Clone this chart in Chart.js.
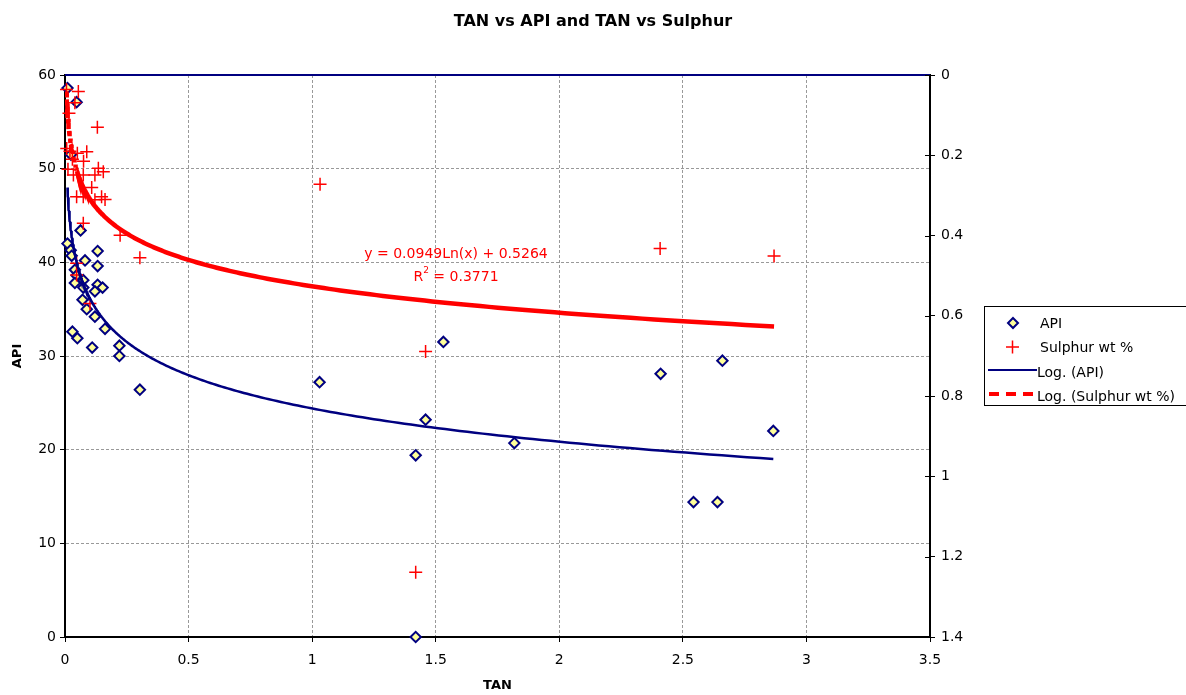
<!DOCTYPE html>
<html>
<head>
<meta charset="utf-8">
<script src="https://cdn.jsdelivr.net/npm/chart.js@4.4.1/dist/chart.umd.min.js"></script>
<style>
  html, body { margin: 0; padding: 0; background: #fff; }
  #wrap { width: 1186px; height: 695px; }
</style>
</head>
<body>
<div id="wrap"><canvas id="chart" width="1186" height="695"></canvas></div>
<script>
// API series (left axis)
const apiTan = [0.01, 0.047, 0.024, 0.063, 0.01, 0.023, 0.132, 0.027, 0.081, 0.132, 0.040, 0.047, 0.074, 0.040,
   0.132, 0.152, 0.074, 0.121, 0.071, 0.088, 0.121, 0.162, 0.030, 0.050, 0.110, 0.220, 0.220, 0.303, 1.030,
   1.531, 1.459, 1.419, 1.818, 1.419, 2.410, 2.660, 2.866, 2.543, 2.640]
const apiValues = [58.6, 57.1, 51.5, 43.4, 42.0, 41.3, 41.2, 40.7, 40.2, 39.6, 39.2, 38.6, 38.1, 37.8,
   37.6, 37.3, 37.3, 36.9, 36.0, 35.0, 34.2, 32.9, 32.6, 31.9, 30.9, 31.1, 30.0, 26.4, 27.2,
   31.5, 23.2, 19.4, 20.7, 0, 28.1, 29.5, 22.0, 14.4, 14.4]

// Sulphur series (right axis, reversed)
const sulphurTan = [0.006, 0.054, 0.040, 0.016, 0.131, 0.007, 0.020, 0.088, 0.050, 0.030, 0.075, 0.012,
   0.034, 0.074, 0.121, 0.135, 0.155, 0.108, 0.047, 0.074, 0.148, 0.121, 0.162, 0.074, 0.223, 0.303,
   0.047, 0.047, 0.101, 1.032, 1.459, 1.419, 2.408, 2.869]
const sulphurValues = [0.036, 0.041, 0.069, 0.095, 0.130, 0.183, 0.190, 0.191, 0.195, 0.210, 0.215, 0.235,
   0.249, 0.249, 0.249, 0.232, 0.241, 0.280, 0.303, 0.303, 0.303, 0.311, 0.310, 0.369, 0.399, 0.455,
   0.469, 0.498, 0.569, 0.272, 0.689, 1.239, 0.432, 0.451]

// log trendlines: y = a * ln(x) + b
const apiFit = [-5.12, 24.4]
const sulphurFit = [0.0949, 0.5264]

// axis ranges [min, max, step]
const tanAxis = [0, 3.5, 0.5]
const apiAxis = [0, 60, 10]
const sulphurAxis = [0, 1.4, 0.2]

const FONT = 'DejaVu Sans'
const NAVY = '#000080'
const RED = '#ff0000'

const toPoints = ( xs, ys ) => xs.map( ( x, i ) => ( { x, y: ys[ i ] } ) )
const fmt = ( v ) => String( Math.round( v * 10 ) / 10 )

function trendPoints( xs, fit ) {
   const lo = Math.min( ...xs )
   const hi = Math.max( ...xs )
   const pts = []
   const n = 300
   for ( let i = 0; i <= n; i++ ) {
      const x = Math.exp( Math.log( lo ) + ( Math.log( hi ) - Math.log( lo ) ) * i / n )
      pts.push( { x, y: fit[ 0 ] * Math.log( x ) + fit[ 1 ] } )
   }
   return pts
}

const extras = {
   id: 'excel_extras',
   afterDraw( chart ) {
      const { ctx, chartArea: ca } = chart
      const y2 = chart.scales.y2
      ctx.save()

      // top frame line
      ctx.strokeStyle = NAVY
      ctx.lineWidth = 2
      ctx.beginPath()
      ctx.moveTo( ca.left, ca.top )
      ctx.lineTo( ca.right, ca.top )
      ctx.stroke()

      // inner half of the right-axis tick marks
      ctx.strokeStyle = '#000'
      ctx.lineWidth = 1
      y2.ticks.forEach( ( t ) => {
         const py = Math.round( y2.getPixelForValue( t.value ) ) + 0.5
         ctx.beginPath()
         ctx.moveTo( ca.right - 5, py )
         ctx.lineTo( ca.right, py )
         ctx.stroke()
      } )

      // title
      ctx.fillStyle = '#000'
      ctx.textAlign = 'center'
      ctx.textBaseline = 'middle'
      ctx.font = `bold 16px "${FONT}"`
      ctx.fillText( 'TAN vs API and TAN vs Sulphur', 593, 22 )

      // trendline equation
      ctx.fillStyle = RED
      ctx.font = `14px "${FONT}"`
      ctx.fillText( 'y = 0.0949Ln(x) + 0.5264', 456, 254 )
      const a = 'R'
      const b = ' = 0.3771'
      const wa = ctx.measureText( a ).width
      const wb = ctx.measureText( b ).width
      ctx.font = `9px "${FONT}"`
      const ws = ctx.measureText( '2' ).width
      const x0 = 456 - ( wa + ws + wb ) / 2
      ctx.textAlign = 'left'
      ctx.font = `14px "${FONT}"`
      ctx.fillText( a, x0, 277 )
      ctx.font = `9px "${FONT}"`
      ctx.fillText( '2', x0 + wa, 271 )
      ctx.font = `14px "${FONT}"`
      ctx.fillText( b, x0 + wa + ws, 277 )

      // legend box
      ctx.strokeStyle = '#000'
      ctx.lineWidth = 1
      ctx.strokeRect( 984.5, 306.5, 215, 99 )

      ctx.fillStyle = '#000'
      ctx.font = `14px "${FONT}"`
      ctx.fillText( 'API', 1040, 324 )
      ctx.fillText( 'Sulphur wt %', 1040, 348 )
      ctx.fillText( 'Log. (API)', 1037, 373 )
      ctx.fillText( 'Log. (Sulphur wt %)', 1037, 397 )

      // diamond
      ctx.beginPath()
      ctx.moveTo( 1013, 318 )
      ctx.lineTo( 1018, 323 )
      ctx.lineTo( 1013, 328 )
      ctx.lineTo( 1008, 323 )
      ctx.closePath()
      ctx.fillStyle = '#ffff99'
      ctx.fill()
      ctx.strokeStyle = NAVY
      ctx.lineWidth = 2
      ctx.stroke()

      // cross
      ctx.strokeStyle = RED
      ctx.lineWidth = 1.5
      ctx.beginPath()
      ctx.moveTo( 1006, 347 )
      ctx.lineTo( 1019, 347 )
      ctx.moveTo( 1012.5, 340.5 )
      ctx.lineTo( 1012.5, 353.5 )
      ctx.stroke()

      // solid navy line
      ctx.strokeStyle = NAVY
      ctx.lineWidth = 2
      ctx.beginPath()
      ctx.moveTo( 988, 370 )
      ctx.lineTo( 1037, 370 )
      ctx.stroke()

      // dashed red line
      ctx.strokeStyle = RED
      ctx.lineWidth = 4
      ctx.setLineDash( [ 10, 7 ] )
      ctx.beginPath()
      ctx.moveTo( 989, 394 )
      ctx.lineTo( 1036, 394 )
      ctx.stroke()

      ctx.restore()
   },
}

const gridCommon = {
   color: '#999999',
   lineWidth: 1,
   tickColor: '#000',
   tickLength: 5,
   tickWidth: 1,
}

const config = {
   type: 'scatter',
   data: {
      datasets: [
         {
            label: 'Log. (Sulphur wt %)',
            type: 'line',
            data: trendPoints( sulphurTan, sulphurFit ),
            yAxisID: 'y2',
            borderColor: RED,
            borderWidth: 4.5,
            pointRadius: 0,
            fill: false,
            tension: 0,
            order: 1,
            segment: {
               borderDash: ( c ) => ( Math.abs( c.p1.y - c.p0.y ) > 3 * Math.abs( c.p1.x - c.p0.x ) ? [ 4, 4 ] : undefined ),
            },
         },
         {
            label: 'Log. (API)',
            type: 'line',
            data: trendPoints( apiTan, apiFit ),
            yAxisID: 'y',
            borderColor: NAVY,
            borderWidth: 2.5,
            pointRadius: 0,
            fill: false,
            tension: 0,
            order: 2,
         },
         {
            label: 'Sulphur wt %',
            data: toPoints( sulphurTan, sulphurValues ),
            yAxisID: 'y2',
            pointStyle: 'cross',
            pointRadius: 6.5,
            borderColor: RED,
            borderWidth: 1.5,
            clip: false,
            order: 3,
         },
         {
            label: 'API',
            data: toPoints( apiTan, apiValues ),
            yAxisID: 'y',
            pointStyle: 'rectRot',
            pointRadius: 5.2,
            backgroundColor: '#ffff99',
            borderColor: NAVY,
            borderWidth: 2,
            clip: false,
            order: 4,
         },
      ],
   },
   options: {
      responsive: false,
      animation: false,
      devicePixelRatio: 1,
      layout: {
         padding: { top: 75, left: 0, right: 0, bottom: 0 },
      },
      plugins: {
         legend: { display: false },
         title: { display: false },
         tooltip: { enabled: false },
      },
      scales: {
         x: {
            type: 'linear',
            min: tanAxis[ 0 ],
            max: tanAxis[ 1 ],
            ticks: { stepSize: tanAxis[ 2 ], color: '#000', font: { family: FONT, size: 14 }, padding: 10, maxRotation: 0, callback: fmt },
            grid: { ...gridCommon },
            border: { display: true, color: '#000', width: 2, dash: [ 3, 2 ] },
            title: { display: true, text: 'TAN', color: '#000', font: { family: FONT, size: 13, weight: 'bold' }, padding: { top: 0, bottom: 2 } },
            afterFit( scale ) { scale.height = 58 },
         },
         y: {
            type: 'linear',
            position: 'left',
            min: apiAxis[ 0 ],
            max: apiAxis[ 1 ],
            ticks: { stepSize: apiAxis[ 2 ], color: '#000', font: { family: FONT, size: 14 }, padding: 4 },
            grid: { ...gridCommon },
            border: { display: true, color: '#000', width: 2, dash: [ 3, 2 ] },
            title: { display: true, text: 'API', color: '#000', font: { family: FONT, size: 13, weight: 'bold' }, padding: { top: 10, bottom: 0 } },
            afterFit( scale ) { scale.width = 65 },
         },
         y2: {
            type: 'linear',
            position: 'right',
            reverse: true,
            min: sulphurAxis[ 0 ],
            max: sulphurAxis[ 1 ],
            ticks: {
               stepSize: sulphurAxis[ 2 ],
               color: '#000',
               font: { family: FONT, size: 14 },
               padding: 6,
               callback: fmt,
            },
            grid: { ...gridCommon, drawOnChartArea: false },
            border: { display: true, color: '#000', width: 2 },
            afterFit( scale ) { scale.width = 256 },
         },
      },
   },
   plugins: [ extras ],
}

new Chart( document.getElementById( 'chart' ).getContext( '2d' ), config )
</script>
</body>
</html>
